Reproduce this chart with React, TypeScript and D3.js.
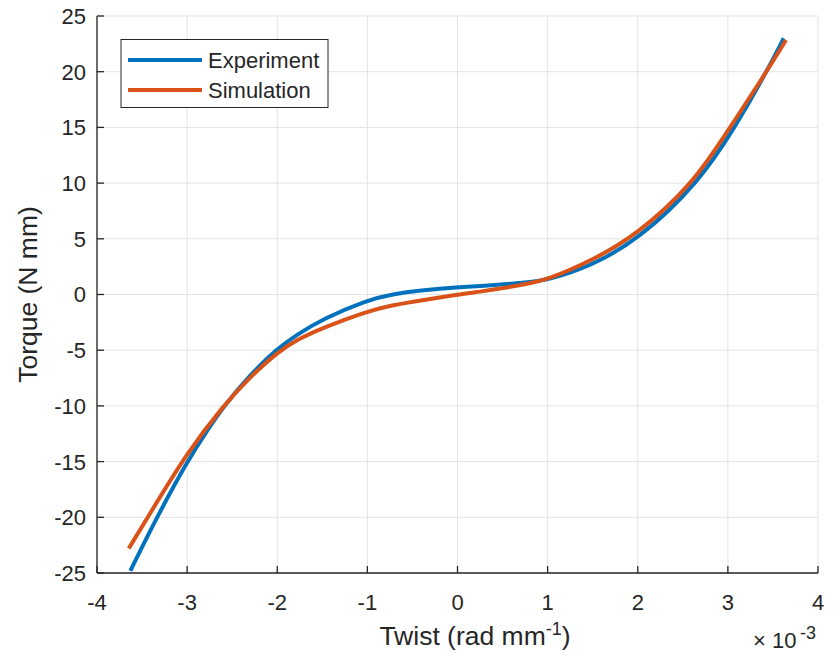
import React from "react";
import * as d3 from "d3";

// Twist in units of 1e-3 rad/mm, torque in N mm
const experimentTwist = [-3.63, -3.33, -3.0, -2.79, -2.6, -2.3, -2.0, -1.78, -1.5, -1.0, -0.75, -0.37, 0, 0.25, 0.8, 1.0, 1.47, 2.02, 2.67, 3.08, 3.43, 3.62];
const experimentTorque = [-24.8, -19.9, -15.0, -12.35, -10.1, -7.2, -4.85, -3.6, -2.2, -0.5, 0.0, 0.4, 0.65, 0.75, 1.1, 1.3, 2.5, 5.0, 10.0, 15.0, 20.0, 23.0];

const simulationTwist = [-3.648, -3.43, -3.0, -2.6, -2.3, -2.0, -1.78, -1.5, -1.0, -0.75, -0.5, 0, 0.25, 0.5, 0.8, 1.0, 1.47, 2.0, 2.62, 3.0, 3.43, 3.645];
const simulationTorque = [-22.8, -19.9, -14.2, -10.0, -7.4, -5.2, -4.05, -3.0, -1.5, -1.0, -0.65, 0.0, 0.25, 0.55, 1.0, 1.35, 2.95, 5.4, 10.0, 14.7, 20.0, 22.85];

const xTicks = [-4, -3, -2, -1, 0, 1, 2, 3, 4];
const yTicks = [-25, -20, -15, -10, -5, 0, 5, 10, 15, 20, 25];

const seriesNames = ["Experiment", "Simulation"];
const seriesColors = ["#0072BD", "#D95319"];

const W = 833;
const H = 656;
const left = 97;
const right = 818;
const top = 16;
const bottom = 573;
const font = "Arial, 'Liberation Sans', Helvetica, sans-serif";
const ink = "#262626";

export default function App() {
  const x = d3.scaleLinear().domain([-4, 4]).range([left, right]);
  const y = d3.scaleLinear().domain([-25, 25]).range([bottom, top]);

  const line = d3
    .line<[number, number]>()
    .x((d) => x(d[0]))
    .y((d) => y(d[1]))
    .curve(d3.curveBasis);

  const series = [
    d3.zip(experimentTwist, experimentTorque) as [number, number][],
    d3.zip(simulationTwist, simulationTorque) as [number, number][],
  ];

  return (
    <svg
      width={W}
      height={H}
      style={{ position: "absolute", left: 0, top: 0, background: "#fff" }}
      fontFamily={font}
    >
      <rect x={0} y={0} width={W} height={H} fill="#fff" />
      {/* grid */}
      <g stroke="#e3e3e3" strokeWidth={1}>
        {xTicks.map((t) => (
          <line key={"gx" + t} x1={x(t)} x2={x(t)} y1={top} y2={bottom} />
        ))}
        {yTicks.map((t) => (
          <line key={"gy" + t} x1={left} x2={right} y1={y(t)} y2={y(t)} />
        ))}
      </g>

      {/* curves */}
      {series.map((s, i) => (
        <path
          key={seriesNames[i]}
          d={line(s) || ""}
          fill="none"
          stroke={seriesColors[i]}
          strokeWidth={4}
          strokeLinejoin="round"
        />
      ))}

      {/* axes */}
      <g stroke={ink} strokeWidth={1.3}>
        <line x1={left} x2={right} y1={bottom} y2={bottom} />
        <line x1={left} x2={left} y1={top} y2={bottom} />
        {xTicks.map((t) => (
          <line key={"tx" + t} x1={x(t)} x2={x(t)} y1={bottom} y2={bottom - 7} />
        ))}
        {yTicks.map((t) => (
          <line key={"ty" + t} x1={left} x2={left + 7} y1={y(t)} y2={y(t)} />
        ))}
      </g>

      {/* tick labels */}
      <g fill={ink} fontSize={22}>
        {xTicks.map((t) => (
          <text key={"lx" + t} x={x(t)} y={610} textAnchor="middle">
            {t}
          </text>
        ))}
        {yTicks.map((t) => (
          <text key={"ly" + t} x={86} y={y(t)} dy="0.36em" textAnchor="end">
            {t}
          </text>
        ))}
      </g>

      {/* exponent */}
      <g fill={ink}>
        <text x={753} y={648} fontSize={22}>×</text>
        <text x={772} y={648} fontSize={22}>10</text>
        <text x={800} y={639} fontSize={18}>-3</text>
      </g>

      {/* axis titles */}
      <text x={475} y={645} textAnchor="middle" fill={ink} fontSize={26.5}>
        Twist (rad mm
        <tspan fontSize={18} dy={-10}>-1</tspan>
        <tspan dy={10}>)</tspan>
      </text>
      <text
        transform={`translate(37,${(top + bottom) / 2}) rotate(-90)`}
        textAnchor="middle"
        fill={ink}
        fontSize={26.5}
      >
        Torque (N mm)
      </text>

      {/* legend */}
      <rect x={121} y={39.5} width={207} height={68} fill="#fff" stroke={ink} strokeWidth={1} />
      {seriesNames.map((n, i) => (
        <g key={"lg" + n}>
          <line
            x1={128}
            x2={202}
            y1={60 + i * 30}
            y2={60 + i * 30}
            stroke={seriesColors[i]}
            strokeWidth={4}
          />
          <text x={208} y={60 + i * 30} dy="0.36em" fill={ink} fontSize={22}>
            {n}
          </text>
        </g>
      ))}
    </svg>
  );
}
